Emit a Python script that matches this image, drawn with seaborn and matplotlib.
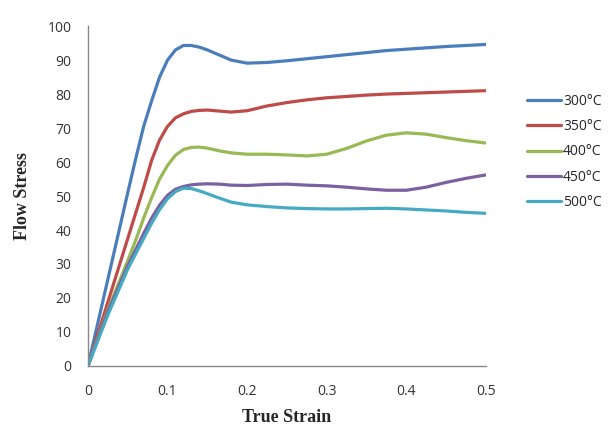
import pandas as pd
import matplotlib.pyplot as plt
import seaborn as sns

# Значения
strain = [0, 0.025, 0.05, 0.06, 0.07, 0.08, 0.09, 0.1, 0.11, 0.12, 0.13, 0.14, 0.15, 0.165,
          0.18, 0.2, 0.225, 0.25, 0.275, 0.3, 0.325, 0.35, 0.375, 0.4, 0.425, 0.45, 0.475, 0.5]
stress_300 = [0, 25.5, 51, 61, 70.5, 78, 85, 90, 93, 94.3, 94.3, 93.8, 93, 91.5,
              90, 89.1, 89.3, 89.8, 90.4, 91, 91.6, 92.2, 92.8, 93.2, 93.6, 94, 94.3, 94.6]
stress_350 = [0, 18.8, 37.5, 45, 52.5, 60.5, 66.5, 70.5, 73, 74.2, 74.9, 75.2, 75.3, 75,
              74.7, 75.1, 76.5, 77.5, 78.3, 78.9, 79.3, 79.7, 80, 80.2, 80.4, 80.6, 80.8, 81]
stress_400 = [0, 16.5, 31, 37, 43.5, 49.5, 55, 59, 62, 63.7, 64.3, 64.4, 64.1, 63.3,
              62.7, 62.3, 62.3, 62.1, 61.8, 62.3, 64, 66.2, 67.9, 68.6, 68.2, 67.2, 66.3, 65.6]
stress_450 = [0, 16, 29.5, 34.2, 39, 43.5, 47.3, 50.2, 52, 52.8, 53.3, 53.5, 53.6, 53.5,
              53.2, 53.1, 53.4, 53.5, 53.2, 53, 52.6, 52.1, 51.7, 51.7, 52.6, 54, 55.2, 56.2]
stress_500 = [0, 15, 28.5, 33, 37.5, 42, 46, 49.2, 51.3, 52.3, 52.2, 51.5, 50.7, 49.4,
              48.2, 47.4, 46.9, 46.5, 46.3, 46.2, 46.2, 46.3, 46.4, 46.2, 45.9, 45.6, 45.2, 44.9]
labels = ['300°C', '350°C', '400°C', '450°C', '500°C']
colors = ['#4A7EBB', '#BE4B48', '#98B954', '#7D60A0', '#46AAC5']

series = [stress_300, stress_350, stress_400, stress_450, stress_500]
df = pd.concat([pd.DataFrame({'strain': strain, 'stress': s, 'temp': lab})
                for s, lab in zip(series, labels)], ignore_index=True)

sns.set_style('white')
plt.rcParams['font.family'] = ['Open Sans', 'DejaVu Sans']

fig = plt.figure(figsize=(6.11, 4.28), dpi=100)
ax = fig.add_axes([0.144, 0.145, 0.651, 0.794])
sns.lineplot(data=df, x='strain', y='stress', hue='temp', palette=colors,
             linewidth=2.3, ax=ax, legend=False)

ax.set_xlim(0, 0.5)
ax.set_ylim(0, 100)
ax.set_xticks([0, 0.1, 0.2, 0.3, 0.4, 0.5])
ax.set_xticklabels(['0', '0.1', '0.2', '0.3', '0.4', '0.5'])
ax.set_yticks(range(0, 101, 10))
ax.tick_params(length=0, labelsize=10, colors='#333333')
ax.tick_params(axis='x', pad=13)
ax.tick_params(axis='y', pad=12)
for side in ['top', 'right']:
    ax.spines[side].set_visible(False)
for side in ['left', 'bottom']:
    ax.spines[side].set_color('#888888')
    ax.spines[side].set_linewidth(1)

ax.set_xlabel('True Strain', fontsize=13, fontweight='bold', family='Liberation Serif', labelpad=7)
ax.set_ylabel('Flow Stress', fontsize=13, fontweight='bold', family='Liberation Serif', labelpad=12)

handles = [plt.Line2D([], [], color=c, linewidth=2.3) for c in colors]
fig.legend(handles, labels, loc='center left', bbox_to_anchor=(0.842, 0.645),
           frameon=False, fontsize=10, handlelength=2.45, handletextpad=0.15,
           labelspacing=0.75)

plt.savefig('out.png', dpi=100)
plt.close()
